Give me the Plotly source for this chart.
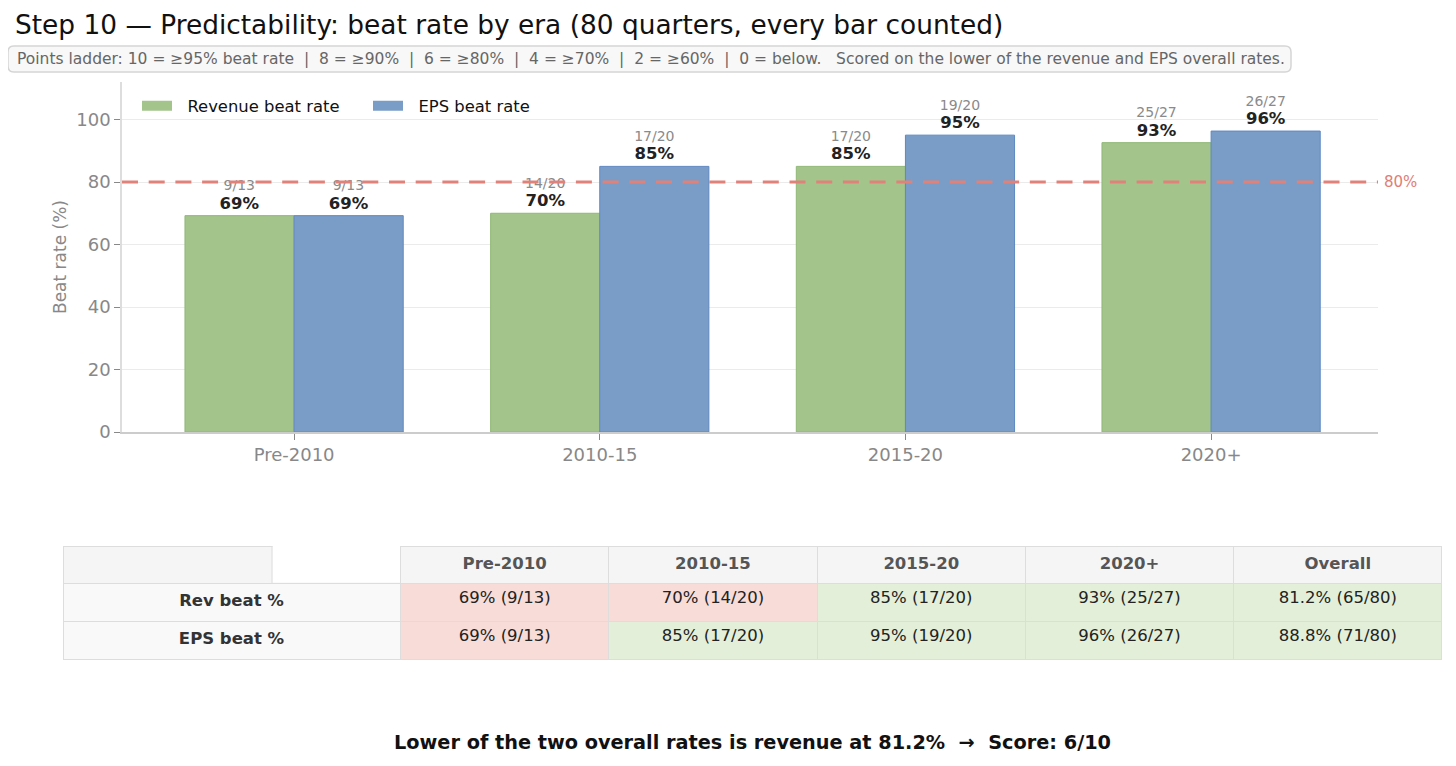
import plotly.graph_objects as go

eras = ["Pre-2010", "2010-15", "2015-20", "2020+"]
rev_beats = [9, 14, 17, 25]
eps_beats = [9, 17, 19, 26]
quarters = [13, 20, 20, 27]
overall_rev = "81.2% (65/80)"
overall_eps = "88.8% (71/80)"
threshold = 80
y_ticks = [0, 20, 40, 60, 80, 100]

OFF = 8  # page body margin
W, H = 1456 - 2 * OFF, 766 - 2 * OFF
FONT = "DejaVu Sans"
GREEN_BAR, BLUE_BAR = "#a3c48b", "#7a9dc7"

rev_rate = [b / q * 100 for b, q in zip(rev_beats, quarters)]
eps_rate = [b / q * 100 for b, q in zip(eps_beats, quarters)]


def labels(beats, rates):
    return [f"{b}/{q}<br><span style='color:#222;font-size:16.5px'><b>{r:.0f}%</b></span>"
            for b, q, r in zip(beats, quarters, rates)]


def px(x):
    return (x - OFF) / W


def py(y):
    return 1 - (y - OFF) / H


fig = go.Figure()
fig.add_bar(x=eras, y=rev_rate, name="Revenue beat rate", showlegend=False, legendgroup="rev",
            marker=dict(color=GREEN_BAR, line=dict(color="#8fb877", width=1)),
            text=labels(rev_beats, rev_rate), textposition="outside",
            textfont=dict(size=14, color="#8a8a8a", family=FONT), cliponaxis=False)
fig.add_bar(x=eras, y=eps_rate, name="EPS beat rate", showlegend=False, legendgroup="eps",
            marker=dict(color=BLUE_BAR, line=dict(color="#5f88c2", width=1)),
            text=labels(eps_beats, eps_rate), textposition="outside",
            textfont=dict(size=14, color="#8a8a8a", family=FONT), cliponaxis=False)
# legend keys (wide rectangular swatches)
for name, col, grp in [("Revenue beat rate", GREEN_BAR, "rev"), ("EPS beat rate", BLUE_BAR, "eps")]:
    fig.add_scatter(x=[None], y=[None], mode="lines", name="\u00a0\u00a0" + name, legendgroup=grp,
                    line=dict(color=col, width=11), hoverinfo="skip")

fig.add_hline(y=threshold, line=dict(color="#e0827a", width=3, dash="16px,10.7px"), layer="above")
fig.add_annotation(x=1, xref="x domain", y=threshold, yref="y", text=f"{threshold}%",
                   showarrow=False, xanchor="left", xshift=4,
                   font=dict(size=15, color="#e07e76", family=FONT))

# Table
def fmt(b, q):
    return f"{b / q * 100:.0f}% ({b}/{q})"

rev_cells = [fmt(b, q) for b, q in zip(rev_beats, quarters)] + [overall_rev]
eps_cells = [fmt(b, q) for b, q in zip(eps_beats, quarters)] + [overall_eps]
rev_vals = rev_rate + [65 / 80 * 100]
eps_vals = eps_rate + [71 / 80 * 100]
RED, GREEN = "#f7dcd8", "#e3efd9"
col_colors = [["#f9f9f9", "#f9f9f9"]]
for rv, ev in zip(rev_vals, eps_vals):
    col_colors.append([RED if rv < threshold else GREEN, RED if ev < threshold else GREEN])

columns = [["<b>Rev beat %</b>", "<b>EPS beat %</b>"]] + [[r, e] for r, e in zip(rev_cells, eps_cells)]
fig.add_trace(go.Table(
    domain=dict(x=[px(63), px(1442)], y=[py(662), py(546)]),
    columnwidth=[337, 208, 208, 208, 208, 208],
    header=dict(values=[""] + [f"<b>{e}</b>" for e in eras] + ["<b>Overall</b>"],
                fill_color="#f5f5f5", line=dict(color="#dddddd", width=1),
                font=dict(size=16.5, color="#555", family=FONT), height=37, align="center"),
    cells=dict(values=columns, fill_color=col_colors, line=dict(color="#dddddd", width=1),
               font=dict(size=16.5, color=[["#333", "#333"]] + [["#222", "#222"]] * 5, family=FONT),
               height=38, align="center"),
))
# blank part of the corner header cell
fig.add_shape(type="rect", xref="paper", yref="paper", x0=px(272.5), x1=px(400), y0=py(582.5), y1=py(544),
              fillcolor="white", line=dict(width=0), layer="above")
fig.add_shape(type="line", xref="paper", yref="paper", x0=px(272), x1=px(272), y0=py(583), y1=py(546),
              line=dict(color="#dddddd", width=1), layer="above")

# Subtitle box with rounded corners
x0, x1, y0, y1 = px(8), px(1291), py(72), py(46)
rx, ry = 6 / W, 6 / H
path = (f"M {x0+rx},{y0} L {x1-rx},{y0} Q {x1},{y0} {x1},{y0+ry} L {x1},{y1-ry} Q {x1},{y1} {x1-rx},{y1} "
        f"L {x0+rx},{y1} Q {x0},{y1} {x0},{y1-ry} L {x0},{y0+ry} Q {x0},{y0} {x0+rx},{y0} Z")
fig.add_shape(type="path", path=path, xref="paper", yref="paper",
              fillcolor="#f8f8f8", line=dict(color="#d5d5d5", width=1.5))
fig.add_annotation(x=px(15), y=py(59), xref="paper", yref="paper", xanchor="left", yanchor="middle",
                   showarrow=False,
                   text="Points ladder: 10 = ≥95% beat rate  |  8 = ≥90%  |  6 = ≥80%  |  4 = ≥70%  |  2 = ≥60%  |  0 = below.   Scored on the lower of the revenue and EPS overall rates.",
                   font=dict(size=15.5, color="#666", family=FONT))

fig.add_annotation(x=px(752), y=py(742), xref="paper", yref="paper", xanchor="center", yanchor="middle",
                   showarrow=False,
                   text="<b>Lower of the two overall rates is revenue at 81.2%  →  Score: 6/10</b>",
                   font=dict(size=19.3, color="#111", family=FONT))

fig.update_layout(
    width=W, height=H,
    margin=dict(l=0, r=0, t=0, b=0, pad=0, autoexpand=False),
    paper_bgcolor="white", plot_bgcolor="white",
    font=dict(family=FONT),
    title=dict(text="Step 10 — Predictability: beat rate by era (80 quarters, every bar counted)",
               x=px(15), xanchor="left", y=py(25), yanchor="middle",
               font=dict(size=26.4, color="#111", family=FONT)),
    barmode="group", bargap=0.286, bargroupgap=0,
    showlegend=True,
    legend=dict(orientation="h", x=px(137), y=py(106), xanchor="left", yanchor="middle",
                bgcolor="rgba(0,0,0,0)", font=dict(size=16.4, color="#111", family=FONT),
                entrywidth=186, entrywidthmode="pixels", traceorder="normal"),
    xaxis=dict(domain=[px(122), px(1378)], range=[-0.563, 3.546], showgrid=False, automargin=False,
               showline=True, linecolor="#cccccc", linewidth=1.5,
               ticks="outside", ticklen=6, tickcolor="#888",
               tickfont=dict(size=18, color="#888", family=FONT)),
    yaxis=dict(domain=[py(432), py(82)], range=[0, 112], tickvals=y_ticks, automargin=False,
               showgrid=True, gridcolor="#ebebeb", gridwidth=1, zeroline=False,
               showline=True, linecolor="#dddddd", linewidth=1.5,
               ticks="outside", ticklen=6, tickcolor="#888",
               tickfont=dict(size=18, color="#888", family=FONT),
               title=dict(text="Beat rate (%)", font=dict(size=17, color="#888", family=FONT), standoff=5)),
)

fig.write_html("out.html")
